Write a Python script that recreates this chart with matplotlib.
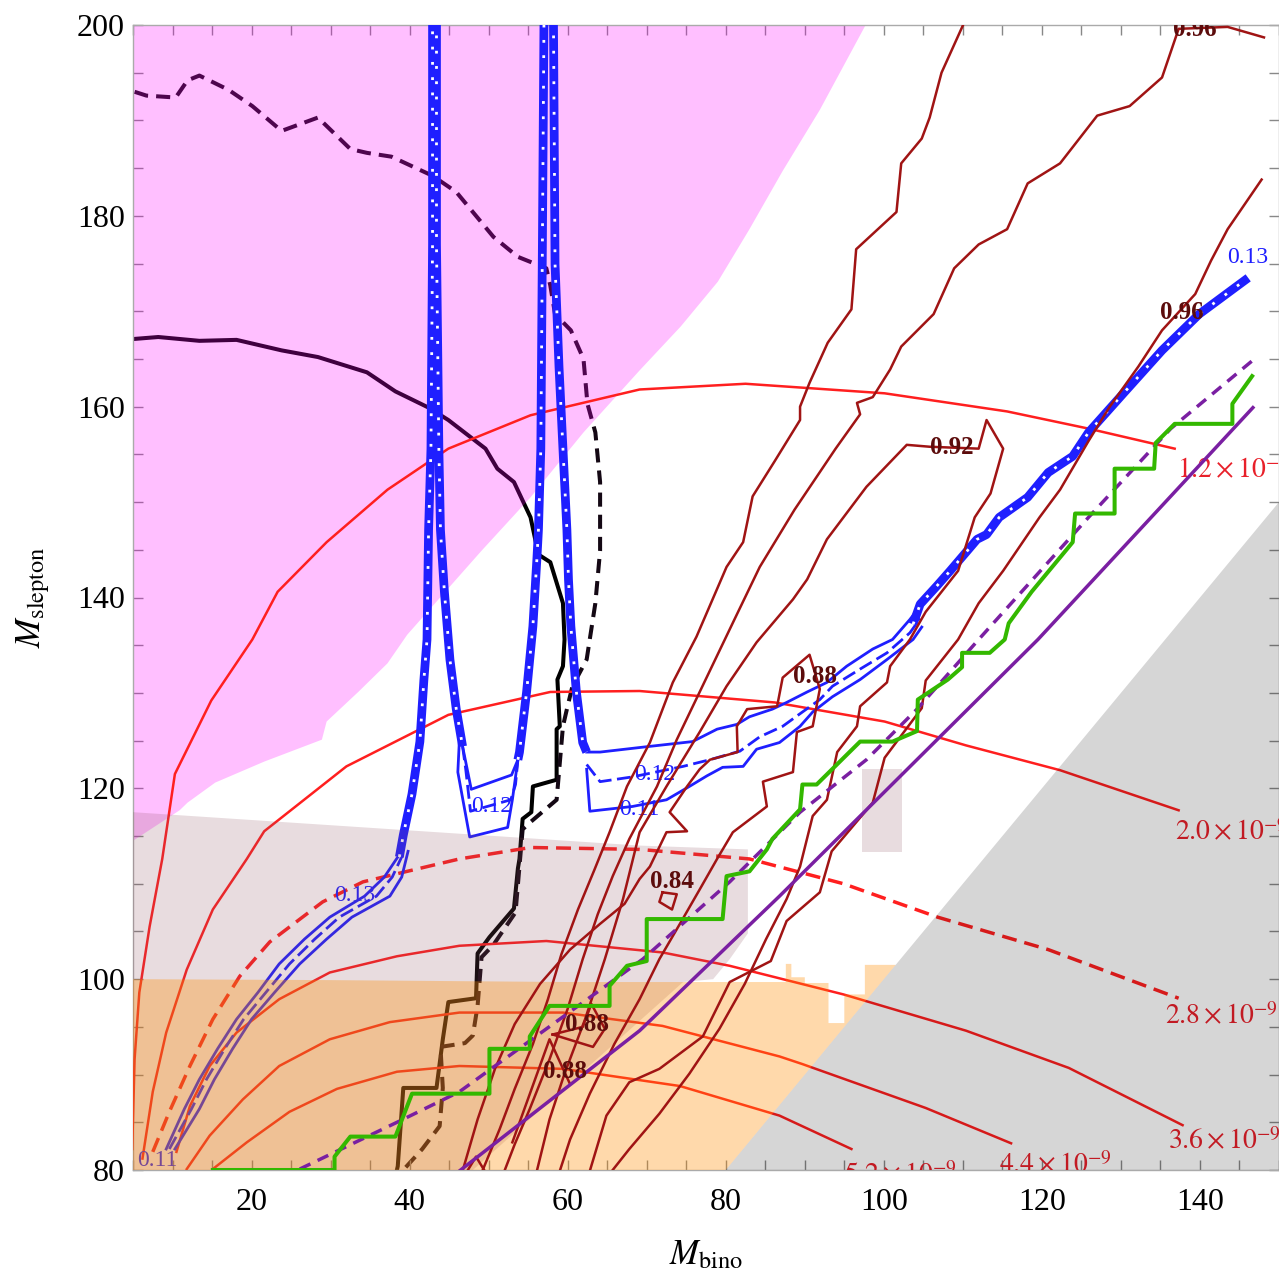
import matplotlib
matplotlib.use("Agg")
import matplotlib.pyplot as plt
import numpy as np
from matplotlib.patches import Polygon

plt.rcParams["font.family"] = ["Liberation Serif", "DejaVu Serif"]
plt.rcParams["mathtext.fontset"] = "stix"

# ---------------- data, (M_bino, M_slepton) ----------------
# shaded regions
pink_region = [(5, 200), (97.7, 200), (91.9, 191.1), (87.2, 184.7), (83.0, 178.6), (79.0, 173.1),
               (74.3, 168.4), (69.1, 163.8), (62.0, 157.3), (55.3, 150.5), (49.1, 144.9),
               (39.7, 136.1), (37.2, 133.1), (33.5, 130.1), (29.5, 127.0), (28.9, 125.1),
               (21.6, 122.8), (15.4, 120.6), (11.9, 118.5), (10.9, 117.7), (5, 114.5)]
mauve_region = [(5, 80), (5, 117.5), (69.1, 114.0), (82.8, 113.6), (82.8, 104.8), (80.5, 102.1),
                (78.4, 100.0), (74.6, 99.7), (48.0, 80.0)]
mauve_box = [(97.3, 113.3), (102.3, 113.3), (102.3, 122.0), (97.3, 122.0)]
orange_region = [(5, 80), (5, 100.0), (30, 99.9), (60, 99.7), (87.6, 99.7), (87.6, 101.6),
                 (88.3, 101.6), (88.3, 100.2), (90, 100.2), (90, 99.6), (93, 99.6), (93, 95.4),
                 (95, 95.4), (95, 98.4), (97.6, 98.4), (97.6, 101.5), (101.5, 101.5), (80, 80)]
gray_region = [(80, 80), (150, 150), (150, 80)]

# red rate contours (x 10^-9)
rate_12 = [(4.9, 82.2), (5.2, 91.6), (5.8, 98.6), (7.1, 105.5), (8.7, 112.6), (10.3, 121.5),
           (14.9, 129.2), (20.1, 135.6), (23.3, 140.6), (29.5, 145.8), (37.2, 151.3),
           (44.9, 155.6), (55.3, 159.1), (69.1, 161.8), (82.5, 162.4), (100.1, 161.4),
           (115.6, 159.5), (125.9, 157.7), (136.8, 155.6)]
rate_20 = [(6.2, 81.2), (7.5, 88.2), (9.2, 94.4), (11.8, 101.0), (15.1, 107.3), (19.4, 112.6),
           (21.6, 115.5), (32.0, 122.3), (44.9, 127.7), (57.8, 130.1), (69.1, 130.2),
           (86.2, 129.0), (100.1, 127.0), (110.4, 124.5), (122.3, 121.9), (137.3, 117.7)]
rate_28 = [(7.5, 81.9), (9.6, 86.1), (12.2, 90.9), (15.1, 95.8), (18.5, 100.3), (22.3, 103.9),
           (29.0, 108.1), (34.1, 110.2), (46.3, 112.6), (55.3, 113.8), (69.1, 113.6),
           (83.0, 112.6), (94.9, 110.0), (106.8, 106.5), (120.8, 103.1), (137.3, 98.0)]
rate_36 = [(10.5, 81.9), (12.2, 86.7), (14.7, 90.9), (18.1, 94.4), (23.5, 97.9), (29.9, 100.7),
           (38.4, 102.4), (46.3, 103.5), (57.3, 104.0), (72.0, 102.8), (80.5, 101.4),
           (94.9, 98.4), (110.4, 94.6), (123.4, 90.7), (137.8, 84.7)]
rate_44 = [(11.8, 80.1), (14.7, 83.6), (18.9, 87.4), (23.5, 90.9), (29.9, 93.7), (37.5, 95.5),
           (46.3, 96.5), (59.4, 96.5), (72.0, 95.1), (86.8, 91.9), (89.7, 91.1), (105.3, 86.5),
           (116.1, 82.8)]
rate_52 = [(15.1, 80.1), (19.4, 82.9), (24.8, 86.1), (30.8, 88.5), (38.4, 90.3), (46.3, 90.9),
           (59.4, 90.6), (74.2, 88.8), (86.8, 85.7), (95.9, 82.2)]
rate_labels = [("1.2", 137.1, 153.3), ("2.0", 136.8, 115.4), ("2.8", 135.6, 96.1),
               ("3.6", 136.0, 83.0), ("4.4", 114.6, 80.5), ("5.2", 94.9, 79.4)]

# black exclusion curves
black_solid = [(5.2, 167.1), (8.2, 167.3), (13.4, 166.9), (18.1, 167.0), (23.8, 165.9), (28.4, 165.2),
               (34.6, 163.6), (38.2, 161.6), (42.4, 159.9), (44.9, 158.6), (49.6, 155.6),
               (51.1, 153.5), (53.2, 152.1), (55.3, 148.4), (56.3, 144.5), (57.8, 143.7),
               (59.4, 139.4), (59.6, 135.6), (59.4, 132.8), (58.7, 131.4), (59.0, 126.5),
               (58.6, 126.2), (58.6, 120.9), (55.6, 120.2), (55.4, 117.5), (54.3, 116.8),
               (53.9, 112.6), (53.7, 111.6), (53.2, 107.4), (50.1, 104.4), (48.6, 102.7),
               (48.4, 98.0), (44.9, 97.6), (44.2, 93.7), (43.4, 88.6), (39.2, 88.6), (38.5, 80.4),
               (38.2, 79.3)]
black_dashed = [(5.2, 193.0), (6.7, 192.6), (10.4, 192.4), (11.9, 194.2), (13.4, 194.7), (17.1, 193.2),
                (20.1, 191.5), (23.8, 188.9), (28.4, 190.3), (32.5, 187.0), (34.6, 186.6),
                (37.7, 186.2), (42.9, 184.2), (45.9, 182.5), (48.0, 180.4), (50.6, 177.8),
                (53.7, 175.7), (57.3, 174.5), (57.8, 172.7), (58.4, 169.7), (60.4, 168.0),
                (62.0, 165.0), (62.5, 160.3), (63.5, 157.3), (64.1, 152.1), (64.1, 144.9),
                (63.5, 139.4), (62.4, 133.5), (60.6, 130.7), (59.9, 128.3), (59.4, 126.5),
                (58.6, 118.8), (55.2, 116.4), (54.3, 115.7), (53.4, 107.0), (50.6, 103.6),
                (49.1, 102.3), (48.6, 97.2), (48.0, 94.1), (47.0, 93.3), (43.9, 92.9),
                (44.2, 88.6), (43.8, 84.6), (41.6, 82.2), (39.2, 80.0)]

# green step limit and purple kinematic lines
green_steps = [(15.1, 80.0), (30.5, 80.0), (30.5, 81.4), (32.5, 83.5), (38.2, 83.5), (40.3, 88.0),
               (50.1, 88.0), (50.1, 92.7), (55.2, 92.7), (55.2, 94.0), (57.7, 97.2), (65.3, 97.2),
               (65.3, 99.3), (67.5, 101.4), (70.0, 101.9), (70.0, 106.3), (79.6, 106.3),
               (80.1, 110.8), (83.0, 111.3), (85.2, 113.6), (85.9, 114.7), (89.4, 117.8),
               (89.7, 120.4), (91.5, 120.4), (97.0, 124.9), (101.1, 124.9), (104.2, 126.0),
               (104.3, 129.3), (108.1, 131.4), (109.9, 132.7), (109.9, 134.2), (113.4, 134.2),
               (115.3, 135.6), (115.8, 137.3), (118.7, 140.6), (123.9, 145.8), (124.2, 148.8),
               (129.2, 148.8), (129.2, 153.5), (134.2, 153.5), (134.4, 156.2), (136.8, 158.2),
               (144.1, 158.2), (144.1, 160.3), (146.6, 163.2)]
purple_solid = [(46.3, 79.9), (69.1, 94.6), (86.8, 108.7), (119.5, 135.6), (146.7, 159.9)]
purple_dashed = [(26.1, 80.1), (38.4, 85.0), (46.3, 88.2), (69.5, 102.1), (80.5, 110.2), (89.4, 117.5),
                 (97.8, 123.0), (104.2, 128.3), (112.0, 135.6), (125.9, 148.4), (136.3, 157.7),
                 (146.6, 164.8)]

# blue relic density contours: 0.13 solid, 0.12 dashed, 0.11 solid
omega13_low = [(9.2, 82.2), (11.5, 86.4), (13.4, 89.5), (15.7, 92.7), (18.1, 95.8), (20.8, 98.6),
               (23.5, 101.6), (26.7, 104.2), (29.9, 106.5), (34.3, 108.7), (36.8, 110.7), (38.5, 112.8)]
omega12_low = [(9.6, 82.2), (12.4, 86.4), (14.3, 89.5), (16.6, 92.7), (19.0, 95.8), (21.8, 98.6),
               (24.8, 101.6), (28.0, 104.2), (31.1, 106.5), (35.8, 108.7), (37.8, 110.7), (39.1, 113.0)]
omega11_low = [(10.3, 82.2), (13.4, 86.4), (15.3, 89.5), (17.6, 92.7), (20.0, 95.8), (22.9, 98.6),
               (26.1, 101.6), (29.5, 104.2), (32.7, 106.5), (37.5, 108.7), (39.0, 110.7), (39.8, 113.4)]
band_a = [(38.7, 112.8), (39.2, 115.1), (40.3, 119.4), (41.3, 124.9), (41.8, 131.3), (42.2, 135.6),
          (42.4, 147.1), (42.7, 155.6), (42.9, 177.0), (42.9, 200.5)]
band_b = [(43.4, 200.5), (43.4, 177.0), (43.7, 155.6), (43.9, 147.1), (44.4, 140.6), (45.1, 133.5),
          (45.9, 128.3), (46.7, 124.4)]
omega13_u = [(46.7, 124.4), (47.8, 119.9), (52.9, 121.4), (53.7, 123.0)]
omega12_u = [(46.7, 124.4), (47.1, 122.0), (47.7, 117.6), (52.8, 118.8), (53.4, 120.4), (53.7, 123.0)]
omega11_u = [(46.3, 125.1), (46.1, 121.7), (47.6, 114.9), (52.4, 115.9), (53.0, 118.8), (53.7, 123.0)]
band_c = [(53.7, 123.0), (53.9, 123.8), (54.8, 130.1), (55.6, 137.0), (56.1, 144.0), (56.3, 147.1),
          (56.6, 155.6), (56.8, 177.0), (57.0, 200.5)]
band_d = [(58.2, 200.5), (58.4, 174.9), (58.9, 164.2), (59.4, 155.6), (59.9, 147.1), (60.1, 141.9),
          (60.4, 137.0), (61.1, 130.1), (61.9, 124.8), (62.4, 123.8)]
omega13_fan = [(62.4, 123.8), (64.1, 123.8), (70.4, 124.4), (75.8, 124.9), (78.9, 126.2), (81.4, 126.7),
               (83.0, 127.5), (85.9, 128.3), (87.7, 129.0), (90.3, 130.1), (92.8, 131.1),
               (95.3, 132.8), (98.6, 134.6), (101.1, 135.6), (103.3, 137.7), (104.6, 139.1)]
omega12_fan = [(62.4, 122.5), (64.1, 120.7), (68.2, 121.2), (74.6, 122.3), (78.0, 123.0), (81.8, 123.9),
               (84.3, 125.4), (87.2, 126.5), (89.7, 128.0), (91.9, 129.3), (93.5, 130.7),
               (97.0, 132.5), (100.4, 134.2), (103.3, 136.3), (104.6, 137.8)]
omega11_fan = [(62.4, 122.0), (62.8, 117.6), (68.2, 118.1), (72.5, 118.8), (75.4, 120.2), (77.6, 121.3),
               (79.6, 122.2), (82.2, 122.3), (83.9, 124.1), (86.8, 124.8), (89.4, 126.5),
               (91.0, 128.0), (93.5, 129.6), (97.0, 131.4), (100.4, 133.5), (103.7, 135.6),
               (104.8, 136.9)]
band_e = [(103.7, 137.2), (104.6, 139.3), (106.7, 141.2), (108.4, 142.8), (111.8, 146.1), (113.0, 146.6),
          (114.6, 148.4), (118.2, 150.5), (120.8, 153.1), (123.9, 154.8), (125.9, 157.3),
          (130.1, 161.2), (135.2, 165.9), (139.9, 169.7), (146.1, 173.5)]
omega_labels = [("0.13", 143.4, 175.6, "left"), ("0.12", 50.4, 118.1, "center"),
                ("0.12", 71.0, 121.5, "center"), ("0.11", 69.1, 117.8, "center"),
                ("0.13", 33.0, 108.8, "center"), ("0.11", 8.1, 81.0, "center")]

# dark red efficiency contours
eff_1 = [(110.3, 200.5), (107.3, 195.0), (105.8, 190.3), (104.8, 188.1), (102.2, 185.5), (101.6, 180.4),
         (96.5, 176.5), (95.9, 170.2), (92.9, 166.7), (90.6, 162.5), (89.4, 160.0), (89.4, 158.6),
         (86.2, 154.3), (83.4, 150.6), (82.2, 145.8), (80.1, 143.2), (76.3, 135.9), (73.3, 131.1),
         (70.4, 124.8), (67.5, 120.2), (65.3, 115.4), (63.4, 111.5), (61.3, 107.3), (59.2, 102.6),
         (57.5, 97.9), (55.6, 93.2), (53.3, 88.5), (51.4, 84.3), (49.2, 79.9)]
eff_2 = [(148.1, 198.7), (143.5, 199.8), (137.3, 199.6), (135.2, 194.5), (131.1, 191.5), (127.0, 190.5),
         (122.3, 185.5), (118.2, 183.4), (115.6, 178.6), (112.0, 177.0), (108.9, 174.5),
         (106.3, 169.7), (102.2, 166.3), (100.8, 163.9), (98.6, 161.0), (96.6, 160.4), (97.0, 159.2),
         (93.9, 155.6), (88.7, 149.2), (84.3, 143.2), (81.1, 137.7), (76.7, 130.1), (73.8, 125.1),
         (71.3, 120.2), (67.8, 114.7), (65.7, 110.8), (63.8, 106.8), (61.9, 102.1), (60.0, 96.9),
         (57.7, 91.6), (55.2, 86.4), (53.3, 82.7), (52.0, 79.9)]
eff_3 = [(56.1, 79.9), (57.7, 85.3), (59.6, 90.1), (62.2, 95.8), (64.7, 102.1), (67.0, 108.4),
         (69.1, 115.4), (72.5, 120.2), (76.7, 125.9), (80.1, 130.7), (83.9, 135.3), (88.5, 139.8),
         (90.3, 141.9), (92.8, 146.1), (97.8, 151.6), (102.9, 156.0), (105.8, 155.8), (112.0, 155.6),
         (113.0, 158.6), (115.1, 155.6), (113.5, 150.9), (111.5, 148.4), (109.4, 142.8),
         (105.3, 138.5), (103.3, 135.6), (100.8, 132.8), (100.4, 131.1), (97.0, 128.6), (96.6, 126.5),
         (94.1, 123.8), (92.8, 118.8), (91.0, 117.1), (89.4, 111.8), (87.7, 108.4), (85.1, 104.2),
         (82.4, 99.5), (79.2, 94.8), (75.4, 90.1), (71.6, 85.9), (67.8, 82.2), (65.6, 79.9)]
eff_4 = [(147.8, 183.8), (143.5, 178.6), (141.4, 175.3), (139.4, 171.8), (135.2, 168.0), (132.2, 164.2),
         (128.5, 159.9), (125.9, 156.4), (122.3, 151.3), (119.7, 148.4), (115.1, 142.8),
         (112.0, 139.4), (109.4, 135.6), (105.3, 131.3), (104.8, 128.4), (100.1, 123.2),
         (98.6, 118.5), (93.4, 113.4), (91.9, 109.1), (87.7, 106.1), (85.7, 101.9), (80.5, 99.7),
         (77.1, 94.0), (71.6, 90.6), (67.8, 89.2), (64.9, 85.7), (62.8, 79.9)]
eff_5 = [(46.7, 79.9), (48.6, 85.3), (50.8, 90.6), (53.3, 95.3), (56.5, 99.5), (60.3, 103.1),
         (64.1, 105.8), (67.2, 107.9), (69.1, 110.5), (70.4, 111.8), (72.5, 115.4), (75.1, 115.5),
         (72.9, 117.5), (75.1, 120.2), (76.7, 122.0), (78.0, 123.0), (81.5, 123.8), (81.4, 126.5),
         (82.7, 128.3), (86.5, 128.6), (87.2, 131.6), (90.6, 134.0), (91.9, 130.4), (91.0, 126.5),
         (89.0, 125.9), (88.5, 121.7), (84.7, 120.7), (85.2, 118.1), (80.9, 115.4), (78.9, 112.6),
         (76.7, 109.4), (74.2, 105.8), (71.6, 102.1), (69.1, 97.9), (65.9, 93.2), (62.8, 88.0),
         (60.3, 83.2), (59.0, 79.9)]
eff_diamond = [(72.0, 109.1), (73.8, 108.9), (73.2, 107.3), (71.6, 108.1), (72.0, 109.1)]
eff_loop = [(58.1, 94.2), (63.2, 92.9), (64.7, 94.8), (63.0, 97.4), (61.9, 95.0), (58.1, 94.2)]
eff_spike = [(53.0, 82.9), (57.7, 93.7), (60.3, 89.0)]
eff_tri = [(47.3, 79.9), (48.4, 81.4), (49.5, 79.9)]
eff_labels = [("0.96", 139.4, 199.5), ("0.96", 137.7, 169.9), ("0.92", 108.6, 155.7),
              ("0.88", 91.3, 131.7), ("0.84", 73.2, 110.2), ("0.88", 62.4, 95.3), ("0.88", 59.6, 90.3)]

x_ticks = [20, 40, 60, 80, 100, 120, 140]
y_ticks = [80, 100, 120, 140, 160, 180, 200]

BLUE = "#1f1fff"
RED = "#ff1f1f"
DARKRED = "#a01414"

fig = plt.figure(figsize=(12.79, 12.73), dpi=100)
ax = fig.add_axes([133 / 1279, 1 - 1170 / 1273, 1146 / 1279, 1145 / 1273])


def draw(pts, **kw):
    a = np.array(pts)
    ax.plot(a[:, 0], a[:, 1], **kw)


def region(pts, color, alpha, z):
    ax.add_patch(Polygon(pts, closed=True, facecolor=color, edgecolor="none", alpha=alpha, zorder=z))


def band(pts):
    # three close contours merge into one blue strip, the dash gaps show as white dots
    draw(pts, color=BLUE, lw=6.3, solid_capstyle="butt", zorder=3)
    draw(pts, color="white", lw=2, ls=(0, (1, 4.5)), zorder=3.1)


# black curves (below pink shading)
draw(black_solid, color="black", lw=2.9, zorder=1.5)
draw(black_dashed, color="#140814", lw=2.9, ls=(0, (3.5, 2)), zorder=1.5)
region(pink_region, "#ff00ff", 0.25, 2)

# red rate contours
for pts, dashed in [(rate_12, False), (rate_20, False), (rate_28, True),
                    (rate_36, False), (rate_44, False), (rate_52, False)]:
    if dashed:
        draw(pts, color=RED, lw=2.5, ls=(0, (4.3, 2.3)), zorder=3)
    else:
        draw(pts, color=RED, lw=1.8, zorder=3)
for val, x, y in rate_labels:
    ax.text(x, y, r"$%s\times10^{-9}$" % val, color="#e8202a", fontsize=20,
            ha="left", va="center", zorder=3.5, clip_on=(val in ("4.4", "5.2")))

# blue relic density
for pts in [omega13_low, omega11_low, omega13_u, omega11_u, omega13_fan, omega11_fan]:
    draw(pts, color=BLUE, lw=2, zorder=3)
for pts in [omega12_low, omega12_u, omega12_fan]:
    draw(pts, color=BLUE, lw=2, ls=(0, (5, 2)), zorder=3)
for pts in [band_a, band_b, band_c, band_d, band_e]:
    band(pts)
for txt, x, y, ha in omega_labels:
    ax.text(x, y, txt, color=BLUE, fontsize=17, ha=ha, va="center", zorder=3.5, clip_on=True)

# mauve and orange shading
region(mauve_region, "#8c505f", 0.2, 4)
region(mauve_box, "#8c505f", 0.2, 4)
region(orange_region, "#ff8c00", 0.33, 4)

# dark red efficiency contours
for pts in [eff_1, eff_2, eff_3, eff_4, eff_5, eff_diamond, eff_loop, eff_spike, eff_tri]:
    draw(pts, color=DARKRED, lw=1.8, zorder=5)
for txt, x, y in eff_labels:
    ax.text(x, y, txt, color="#5c0c0c", fontsize=18, fontweight="bold",
            ha="center", va="center", zorder=8, clip_on=True)

# purple and green
draw(purple_solid, color="#7a1fa2", lw=2.5, zorder=6)
draw(purple_dashed, color="#7a1fa2", lw=2.5, ls=(0, (3.4, 2.3)), zorder=6)
draw(green_steps, color="#33b800", lw=2.9, zorder=6.5)

# gray excluded region M_slepton < M_bino
region(gray_region, "black", 0.16, 7)

ax.set_xlim(5, 150)
ax.set_ylim(80, 200)
ax.set_xticks(x_ticks)
ax.set_yticks(y_ticks)
ax.set_xticks(np.arange(5, 151, 5), minor=True)
ax.set_yticks(np.arange(80, 201, 5), minor=True)
ax.tick_params(which="both", direction="in", top=True, right=True, length=7,
               color="#888888", width=1)
ax.tick_params(axis="x", labelsize=23, pad=13)
ax.tick_params(axis="y", labelsize=23, pad=6)
for s in ax.spines.values():
    s.set_color("#aaaaaa")
    s.set_linewidth(1)

ax.set_xlabel(r"$M_{\mathrm{bino}}$", fontsize=25, labelpad=16)
ax.set_ylabel(r"$M_{\mathrm{slepton}}$", fontsize=25, labelpad=18)

fig.savefig("out.png", dpi=100)
